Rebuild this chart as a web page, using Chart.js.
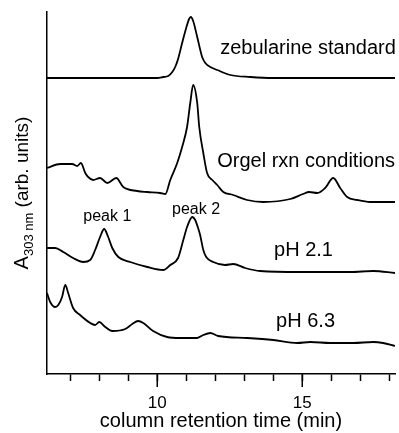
<!DOCTYPE html>
<html><head><meta charset="utf-8">
<style>html,body{margin:0;padding:0;background:#fff;}</style>
<script src="https://cdn.jsdelivr.net/npm/chart.js@4.4.0/dist/chart.umd.min.js"></script>
</head><body>
<canvas id="c" width="399" height="433"></canvas>
<script>
// retention time (min) and absorbance (arb. units, traces offset vertically)
const zebX = [6.2, 9, 10.0, 10.21, 10.38, 10.52, 10.62, 10.72, 10.86, 11.0, 11.1, 11.16, 11.24, 11.38, 11.55, 11.66, 11.83, 12.07, 12.52, 13.21, 14, 16, 18.2];
const zebY = [296, 296, 296, 297, 298, 302, 307, 315, 331, 346, 355, 357, 353, 337, 317, 311, 307, 304, 299, 297, 296, 296, 296];

const orgX = [6.2, 6.66, 7.07, 7.24, 7.37, 7.52, 7.62, 7.79, 8.03, 8.28, 8.59, 8.83, 9.31, 9.66, 10.10, 10.28, 10.45, 10.69, 10.86, 11.03, 11.14, 11.24, 11.38, 11.45, 11.59, 11.72, 11.90, 12.07, 12.28, 12.62, 13.10, 13.66, 14.59, 15.03, 15.24, 15.52, 15.79, 16.07, 16.31, 16.55, 16.90, 17.34, 18.2];
const orgY = [206, 210, 210, 208, 211, 201, 197, 194, 196, 191, 196, 187, 183, 182, 181, 180, 194, 211, 227, 247, 271, 289, 271, 247, 221, 201, 194, 189, 182, 179, 174, 172, 175, 180, 182, 181, 186, 196, 186, 177, 174, 172, 172];

const ph21X = [6.2, 6.48, 6.76, 7.10, 7.45, 7.69, 7.86, 8.03, 8.17, 8.31, 8.45, 8.66, 9.07, 9.66, 10.21, 10.45, 10.72, 10.90, 11.03, 11.21, 11.31, 11.41, 11.48, 11.59, 11.69, 11.93, 12.34, 12.62, 13.03, 13.55, 14.93, 16.66, 17.45, 18.2];
const ph21Y = [126, 126, 122, 116, 112, 114, 124, 137, 145, 137, 126, 117, 112, 107, 104, 109, 116, 134, 147, 157, 154, 146, 139, 124, 117, 112, 109, 110, 106, 103, 102, 102, 103, 101];

const ph63X = [6.2, 6.31, 6.48, 6.59, 6.72, 6.83, 6.93, 7.10, 7.34, 7.69, 7.86, 8.0, 8.21, 8.45, 8.90, 9.14, 9.34, 9.52, 9.86, 10.34, 10.79, 11.38, 11.59, 11.83, 12.10, 13.10, 14.0, 14.83, 15.28, 15.97, 16.76, 17.45, 17.79, 18.2];
const ph63Y = [81, 72, 67, 69, 77, 89, 81, 66, 59, 51, 49, 52, 47, 43, 45, 50, 53, 51, 43, 37, 36, 36, 39, 41, 38, 36, 34, 31, 32, 31, 31, 32, 31, 28];

const tickValues = [7, 8, 9, 10, 11, 12, 13, 14, 15, 16, 17, 18];
const tickLabels = [10, 15];

const noteText = ['zebularine standard', 'Orgel rxn conditions', 'pH 2.1', 'pH 6.3', 'peak 1', 'peak 2'];
const noteX = [12.17, 12.07, 14.03, 14.10, 8.28, 11.34];
const noteY = [320, 207, 118, 47, 153, 160];

const FONT = 'Liberation Sans, Arial, Helvetica, sans-serif';

function pts(xs, ys) { return xs.map((x, i) => ({x: x, y: ys[i]})); }

const extras = {
  id: 'extras',
  afterDraw(chart) {
    const ctx = chart.ctx, xs = chart.scales.x, ys = chart.scales.y, ca = chart.chartArea;
    ctx.save();
    // longer major tick marks
    ctx.strokeStyle = '#000'; ctx.lineWidth = 1.5;
    tickLabels.forEach(v => {
      const px = Math.round(xs.getPixelForValue(v)) + 0.25;
      ctx.beginPath(); ctx.moveTo(px, ca.bottom); ctx.lineTo(px, ca.bottom + 13); ctx.stroke();
    });
    // trace annotations
    ctx.fillStyle = '#000';
    ctx.textBaseline = 'alphabetic';
    noteText.forEach((t, i) => {
      const small = i >= 4;
      ctx.font = (small ? 16 : 20) + 'px ' + FONT;
      ctx.textAlign = small ? 'center' : 'left';
      ctx.fillText(t, xs.getPixelForValue(noteX[i]), ys.getPixelForValue(noteY[i]));
    });
    // y-axis title with subscript
    const fA = '20px ' + FONT, fS = '13px ' + FONT, fR = '19px ' + FONT;
    ctx.font = fA; const wA = ctx.measureText('A').width;
    ctx.font = fS; const wS = ctx.measureText('303 nm').width;
    ctx.font = fR; const wR = ctx.measureText(' (arb. units)').width;
    const total = wA + wS + wR;
    const cy = (ca.top + ca.bottom) / 2;
    ctx.translate(28, cy + total / 2);
    ctx.rotate(-Math.PI / 2);
    ctx.textAlign = 'left';
    ctx.font = fA; ctx.fillText('A', 0, 0);
    ctx.font = fS; ctx.fillText('303 nm', wA, 5);
    ctx.font = fR; ctx.fillText(' (arb. units)', wA + wS, 0);
    ctx.restore();
  }
};

new Chart(document.getElementById('c'), {
  type: 'line',
  data: {
    datasets: [
      {data: pts(zebX, zebY)},
      {data: pts(orgX, orgY)},
      {data: pts(ph21X, ph21Y)},
      {data: pts(ph63X, ph63Y)}
    ]
  },
  options: {
    responsive: false,
    animation: false,
    devicePixelRatio: 1,
    layout: {padding: {left: 47, top: 12, right: 4, bottom: 0}},
    plugins: {legend: {display: false}, tooltip: {enabled: false}},
    elements: {
      point: {radius: 0},
      line: {borderWidth: 1.8, borderColor: '#000', cubicInterpolationMode: 'monotone', fill: false}
    },
    scales: {
      x: {
        type: 'linear', min: 6.2, max: 18.2, offset: false,
        afterBuildTicks(s) { s.ticks = tickValues.map(v => ({value: v})); },
        afterFit(s) { s.height = 59; s.paddingLeft = 0; s.paddingRight = 0; },
        grid: {display: true, drawOnChartArea: false, drawTicks: true, tickLength: 7, tickWidth: 1.5, tickColor: '#000'},
        border: {display: true, color: '#000', width: 1.5},
        ticks: {
          autoSkip: false, maxRotation: 0, minRotation: 0,
          padding: 12, color: '#000', font: {family: FONT, size: 17},
          callback: v => tickLabels.some(t => Math.abs(t - v) < 1e-6) ? String(Math.round(v)) : ''
        },
        title: {display: true, text: 'column retention time (min)', color: '#000', font: {family: FONT, size: 20}, padding: {top: 0, bottom: 0}}
      },
      y: {
        type: 'linear', min: 0, max: 362,
        afterFit(s) { s.width = 0; },
        grid: {display: false},
        border: {display: true, color: '#000', width: 1.5},
        ticks: {display: false}
      }
    }
  },
  plugins: [extras]
});
</script>
</body></html>
